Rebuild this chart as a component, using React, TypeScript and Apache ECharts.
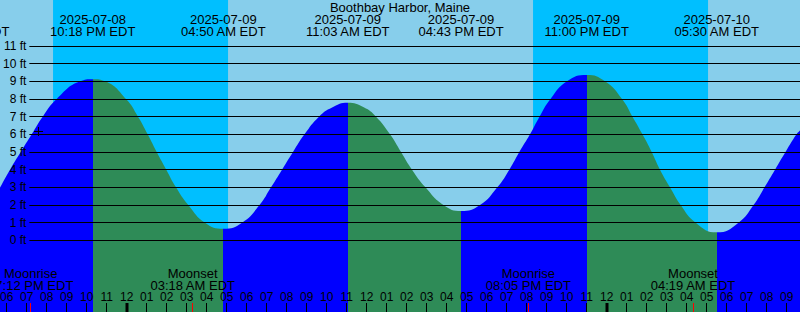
import React, { useEffect, useRef } from "react";
import * as echarts from "echarts";

const FONT = '"Liberation Sans", Arial, Helvetica, sans-serif';
const TITLE = "Boothbay Harbor, Maine";

// Time is in hours relative to 2025-07-09 00:00 EDT
const X_MIN = -6.335;
const X_MAX = 33.665;
const Y_MIN = -4.059;
const Y_MAX = 13.604;
const Y_AXIS_MIN = 0;
const Y_AXIS_MAX = 11;

// Tide curve (hours, feet)
const TIDE_T = [
  -6.335, -5.835, -5.3, -4.75, -4.2, -3.5, -2.335, -1.7,
  -1.08, -0.035, 0.565, 1.05, 1.5, 1.98, 2.465, 3.08, 3.915, 4.833,
  5.765, 6.64, 7.215, 7.765, 8.315, 8.89, 9.615, 10.27, 11.05,
  11.85, 12.465, 13.165, 13.715, 14.265, 14.94, 15.84, 16.717,
  17.665, 18.53, 19.13, 19.63, 20.165, 20.64, 21.19, 22.015, 23.0,
  23.915, 24.765, 25.29, 25.79, 26.25, 26.665, 27.165, 27.7, 28.45, 29.5,
  30.59, 31.34, 31.89, 32.415, 32.94, 33.49, 33.665,
];
const TIDE_FT = [
  2.98, 4.0, 5.0, 6.0, 7.0, 8.0, 9.0, 9.12,
  9.0, 8.0, 7.0, 6.0, 5.0, 4.0, 3.0, 2.0, 1.0, 0.66,
  1.0, 2.0, 3.0, 4.0, 5.0, 6.0, 7.0, 7.52, 7.79,
  7.53, 7.0, 6.0, 5.0, 4.0, 3.0, 2.0, 1.66,
  2.0, 3.0, 4.0, 5.0, 6.0, 7.0, 8.0, 9.0, 9.36,
  9.0, 8.0, 7.0, 6.0, 5.0, 4.0, 3.0, 2.0, 1.0, 0.45,
  1.0, 2.0, 3.0, 4.0, 5.0, 6.0, 6.22,
];

// High / low tide events
const EVENT_T = [-8.0, -1.7, 4.833, 11.05, 16.717, 23.0, 29.5];
const EVENT_KIND = ["low", "high", "low", "high", "low", "high", "low"];
const EVENT_DATE = ["2025-07-08", "2025-07-08", "2025-07-09", "2025-07-09", "2025-07-09", "2025-07-09", "2025-07-10"];
const EVENT_TIME = ["03:57 PM EDT", "10:18 PM EDT", "04:50 AM EDT", "11:03 AM EDT", "04:43 PM EDT", "11:00 PM EDT", "05:30 AM EDT"];

// Night (sunset -> sunrise)
const NIGHT_START = [-3.683, 20.317];
const NIGHT_END = [5.067, 29.067];

// Moon events
const MOON_T = [-4.8, 3.3, 20.083, 28.317];
const MOON_NAME = ["Moonrise", "Moonset", "Moonrise", "Moonset"];
const MOON_TIME = ["07:12 PM EDT", "03:18 AM EDT", "08:05 PM EDT", "04:19 AM EDT"];

// Hour ticks
const HOUR_TICKS = [
  -6, -5, -4, -3, -2, -1, 0, 1, 2, 3, 4, 5, 6, 7, 8, 9, 10, 11, 12, 13,
  14, 15, 16, 17, 18, 19, 20, 21, 22, 23, 24, 25, 26, 27, 28, 29, 30, 31, 32, 33,
];
const HOUR_LABELS = [
  "06", "07", "08", "09", "10", "11", "12", "01", "02", "03", "04", "05", "06", "07", "08", "09", "10", "11", "12", "01",
  "02", "03", "04", "05", "06", "07", "08", "09", "10", "11", "12", "01", "02", "03", "04", "05", "06", "07", "08", "09",
];

// "+" marker
const MARK_T = [-4.45];
const MARK_FT = [6.19];

const DAY_COLOR = "#87CEEB";
const NIGHT_COLOR = "#00BFFF";
const RISE_COLOR = "#0000FF";
const FALL_COLOR = "#2E8B57";

function buildPieces() {
  const pieces: any[] = [];
  pieces.push({ gte: X_MIN - 10, lt: EVENT_T[1], color: EVENT_KIND[1] === "high" ? RISE_COLOR : FALL_COLOR });
  for (let i = 1; i < EVENT_T.length; i++) {
    const lo = EVENT_T[i];
    const hi = i + 1 < EVENT_T.length ? EVENT_T[i + 1] : X_MAX + 10;
    pieces.push({ gte: lo, lt: hi, color: EVENT_KIND[i] === "high" ? FALL_COLOR : RISE_COLOR });
  }
  return pieces;
}

const textStyle = (text: string, x: number, y: number, size: number) => ({
  text,
  x,
  y,
  align: "center",
  verticalAlign: "middle",
  fontSize: size,
  fontFamily: FONT,
  fill: "#000",
});

export default function App() {
  const ref = useRef<HTMLDivElement>(null);

  useEffect(() => {
    document.body.style.margin = "0";
    if (!ref.current) return;
    const chart = echarts.init(ref.current, undefined, { renderer: "svg" });

    const option: any = {
      animation: false,
      grid: [
        { left: 0, right: 0, top: 0, bottom: 0, show: true, backgroundColor: DAY_COLOR, borderWidth: 0 },
        { left: 29, right: 0, top: 46, bottom: 71.7, show: false },
      ],
      xAxis: [
        { type: "value", gridIndex: 0, min: X_MIN, max: X_MAX, show: false },
        { type: "value", gridIndex: 1, min: X_MIN, max: X_MAX, show: false },
      ],
      yAxis: [
        { type: "value", gridIndex: 0, min: Y_MIN, max: Y_MAX, show: false },
        {
          type: "value",
          gridIndex: 1,
          min: Y_AXIS_MIN,
          max: Y_AXIS_MAX,
          interval: 1,
          z: 3,
          axisLine: { show: false },
          axisTick: { show: false },
          splitLine: { show: true, lineStyle: { color: "#000", width: 1 } },
          axisLabel: { formatter: "{value} ft", color: "#000", fontSize: 12, fontFamily: FONT, margin: 3 },
        },
      ],
      visualMap: {
        type: "piecewise",
        show: false,
        dimension: 0,
        seriesIndex: 1,
        pieces: buildPieces(),
      },
      graphic: [
        { type: "text", x: 400, y: 7.5, z: 10, style: textStyle(TITLE, 0, 0, 13) },
      ],
      series: [
        {
          type: "custom",
          xAxisIndex: 0,
          yAxisIndex: 0,
          z: 1,
          silent: true,
          clip: false,
          data: NIGHT_START.map((s, i) => [s, NIGHT_END[i]]),
          renderItem: (params: any, api: any) => {
            const i = params.dataIndex;
            const a = api.coord([NIGHT_START[i], Y_MAX]);
            const b = api.coord([NIGHT_END[i], Y_MIN]);
            return {
              type: "rect",
              shape: { x: a[0], y: a[1], width: b[0] - a[0], height: b[1] - a[1] },
              style: { fill: NIGHT_COLOR },
            };
          },
        },
        {
          type: "line",
          xAxisIndex: 0,
          yAxisIndex: 0,
          z: 2,
          silent: true,
          data: TIDE_T.map((t, i) => [t, TIDE_FT[i]]),
          smooth: 0.5,
          showSymbol: false,
          symbol: "none",
          lineStyle: { width: 0 },
          areaStyle: { origin: "start", opacity: 1 },
        },
        {
          type: "custom",
          xAxisIndex: 0,
          yAxisIndex: 0,
          z: 5,
          silent: true,
          clip: false,
          data: MARK_T.map((t, i) => [t, MARK_FT[i]]),
          renderItem: (params: any, api: any) => {
            const i = params.dataIndex;
            const p = api.coord([MARK_T[i], MARK_FT[i]]);
            const cx = Math.round(p[0]) + 0.5;
            const cy = Math.round(p[1]) + 0.5;
            return {
              type: "group",
              children: [
                { type: "line", shape: { x1: cx - 4.5, y1: cy, x2: cx + 4.5, y2: cy }, style: { stroke: "#000", lineWidth: 1 } },
                { type: "line", shape: { x1: cx, y1: cy - 4.5, x2: cx, y2: cy + 4.5 }, style: { stroke: "#000", lineWidth: 1 } },
              ],
            };
          },
        },
        {
          type: "custom",
          xAxisIndex: 0,
          yAxisIndex: 0,
          z: 5,
          silent: true,
          clip: false,
          data: HOUR_TICKS.map((h, i) => [h, i]),
          renderItem: (params: any, api: any) => {
            const i = params.dataIndex;
            const p = api.coord([HOUR_TICKS[i], Y_MIN]);
            const major = HOUR_TICKS[i] % 24 === 0;
            const x = major ? Math.round(p[0]) : Math.floor(p[0]) + 0.5;
            return {
              type: "group",
              children: [
                { type: "line", shape: { x1: x, y1: p[1] - 9, x2: x, y2: p[1] }, style: { stroke: "#000", lineWidth: major ? 3 : 1 } },
                { type: "text", style: textStyle(HOUR_LABELS[i], p[0], 297, 12) },
              ],
            };
          },
        },
        {
          type: "custom",
          xAxisIndex: 0,
          yAxisIndex: 0,
          z: 6,
          silent: true,
          clip: false,
          data: MOON_T.map((t, i) => [t, i]),
          renderItem: (params: any, api: any) => {
            const i = params.dataIndex;
            const p = api.coord([MOON_T[i], Y_MIN]);
            const x = Math.floor(p[0]) + 0.5;
            return {
              type: "group",
              children: [
                { type: "line", shape: { x1: x, y1: p[1] - 9, x2: x, y2: p[1] }, style: { stroke: "#FF0000", lineWidth: 1 } },
                { type: "text", style: textStyle(MOON_NAME[i], p[0], 273, 13) },
                { type: "text", style: textStyle(MOON_TIME[i], p[0], 285.5, 13) },
              ],
            };
          },
        },
        {
          type: "custom",
          xAxisIndex: 0,
          yAxisIndex: 0,
          z: 6,
          silent: true,
          clip: false,
          data: EVENT_T.map((t, i) => [t, i]),
          renderItem: (params: any, api: any) => {
            const i = params.dataIndex;
            const p = api.coord([EVENT_T[i], Y_MAX]);
            return {
              type: "group",
              children: [
                { type: "text", style: textStyle(EVENT_DATE[i], p[0], 19.5, 13) },
                { type: "text", style: textStyle(EVENT_TIME[i], p[0], 31.3, 13) },
              ],
            };
          },
        },
      ],
    };

    chart.setOption(option);
    return () => chart.dispose();
  }, []);

  return <div ref={ref} style={{ width: 800, height: 312 }} />;
}
